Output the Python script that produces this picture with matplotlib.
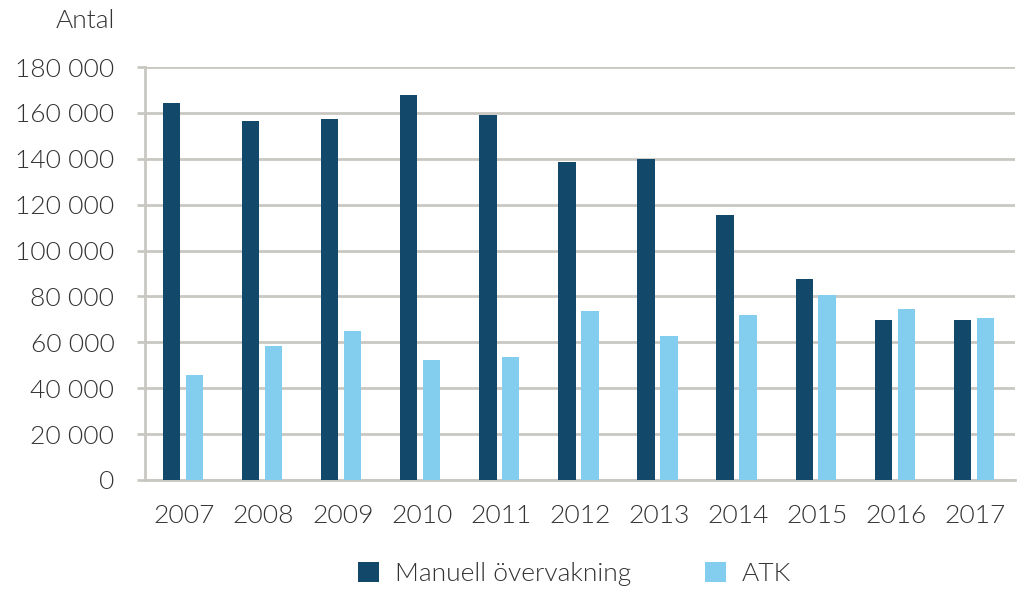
import matplotlib.pyplot as plt
import numpy as np

plt.rcParams['font.family'] = ['Lato', 'DejaVu Sans']
plt.rcParams['font.weight'] = 300

# Data
years = ["2007", "2008", "2009", "2010", "2011", "2012", "2013", "2014", "2015", "2016", "2017"]
manuell = [164500, 156500, 157400, 167800, 159000, 138600, 140000, 115500, 87600, 69700, 69700]
atk = [45800, 58400, 65000, 52300, 53600, 73700, 62800, 72000, 80600, 74500, 70600]

dark = "#12486a"
light = "#83cdef"
grid_col = "#c9c7c1"
text_col = "#333333"

fig = plt.figure(figsize=(10.24, 5.95), dpi=100)
ax = fig.add_axes([0.1416, 0.1933, 0.8496, 0.694])

x = np.arange(len(years))
w = 0.22
off = 0.145
ax.bar(x - off - 0.02, manuell, width=w, color=dark, label="Manuell övervakning", zorder=3)
ax.bar(x + off - 0.02, atk, width=w, color=light, label="ATK", zorder=3)

ax.set_xlim(-0.5, len(years) - 0.5)
ax.set_ylim(0, 180000)
ax.set_yticks(np.arange(0, 180001, 20000))
ax.set_yticklabels([f"{v:,}".replace(",", " ") for v in range(0, 180001, 20000)])
ax.set_xticks(x)
ax.set_xticklabels(years)

ax.grid(axis="y", color=grid_col, linewidth=2, zorder=0)
for s in ["top", "right"]:
    ax.spines[s].set_visible(False)
ax.spines["left"].set_color(grid_col)
ax.spines["left"].set_linewidth(2)
ax.spines["bottom"].set_color(grid_col)
ax.spines["bottom"].set_linewidth(2)

ax.tick_params(axis="y", length=6, width=2, color=grid_col, pad=16, labelsize=19, labelcolor=text_col)
ax.tick_params(axis="x", length=0, pad=17, labelsize=19, labelcolor=text_col)

fig.text(0.112, 0.965, "Antal", ha="right", va="center", fontsize=19, color=text_col)

leg = fig.legend(loc="center", bbox_to_anchor=(0.561, 0.035), ncol=2, frameon=False,
                 prop={"size": 19, "weight": 300}, handlelength=0.8, handleheight=0.8,
                 handletextpad=0.6, columnspacing=2.8, labelcolor=text_col)

plt.savefig("out.png", dpi=100)
